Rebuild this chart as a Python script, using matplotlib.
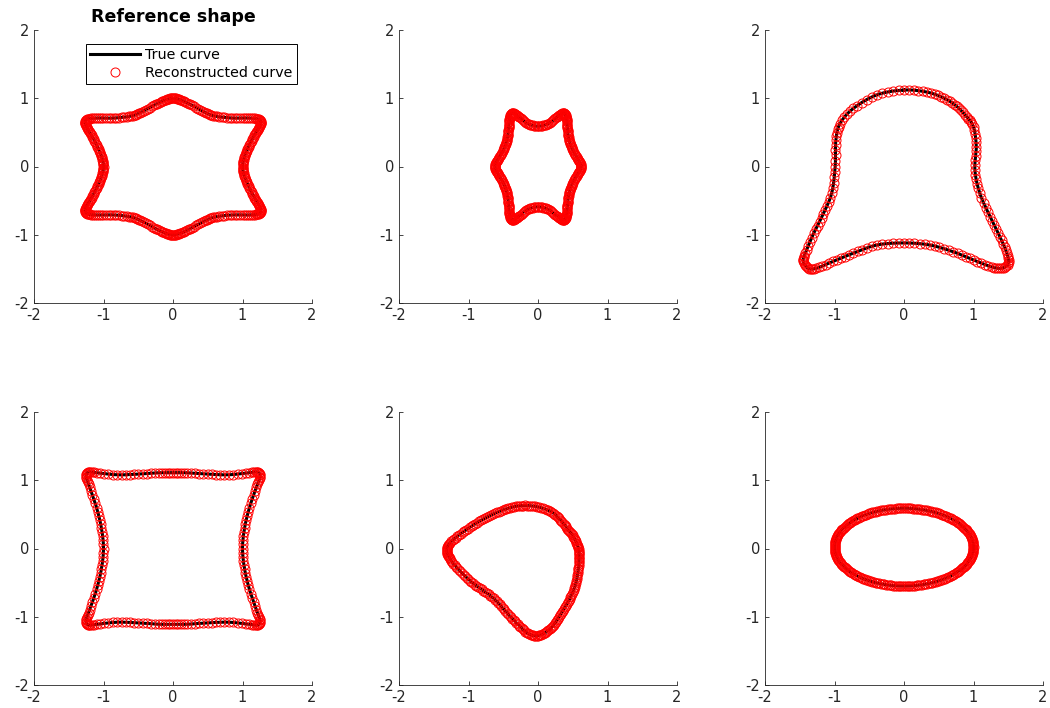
import numpy as np
import matplotlib
matplotlib.use("Agg")
import matplotlib.pyplot as plt

plt.rcParams["axes.unicode_minus"] = False

# outline points (first quadrant for the symmetric shapes)
star_q1 = [(1.00, 0.00), (1.02, 0.12), (1.07, 0.25), (1.14, 0.40), (1.21, 0.52),
           (1.26, 0.62), (1.24, 0.69), (1.10, 0.71), (0.85, 0.71), (0.60, 0.74),
           (0.45, 0.80), (0.25, 0.91), (0.10, 0.98), (0.00, 1.00)]
small_star_q1 = [(0.62, 0.00), (0.58, 0.10), (0.51, 0.22), (0.46, 0.34), (0.43, 0.48),
                 (0.42, 0.63), (0.40, 0.74), (0.36, 0.78), (0.28, 0.73), (0.15, 0.63),
                 (0.00, 0.59)]
square_q1 = [(1.00, 0.00), (1.03, 0.30), (1.10, 0.60), (1.20, 0.90), (1.25, 1.05),
             (1.22, 1.12), (1.10, 1.11), (0.80, 1.08), (0.50, 1.09), (0.20, 1.11),
             (0.00, 1.11)]
bell = [(0.00, 1.12), (-0.39, 1.05), (-0.73, 0.85), (-0.92, 0.63), (-0.98, 0.39),
        (-0.99, 0.00), (-1.04, -0.39), (-1.16, -0.69), (-1.30, -0.98), (-1.42, -1.27),
        (-1.45, -1.39), (-1.38, -1.49), (-1.26, -1.49), (-1.02, -1.39), (-0.73, -1.27),
        (-0.39, -1.15), (0.00, -1.12), (0.37, -1.15), (0.71, -1.25), (1.00, -1.37),
        (1.26, -1.47), (1.41, -1.49), (1.50, -1.42), (1.48, -1.27), (1.38, -1.03),
        (1.24, -0.74), (1.09, -0.39), (1.02, -0.05), (1.04, 0.29), (1.00, 0.58),
        (0.90, 0.73), (0.76, 0.88), (0.58, 1.00), (0.33, 1.09)]
blob = [(-0.21, 0.63), (-0.59, 0.53), (-0.98, 0.31), (-1.29, 0.05), (-1.26, -0.16),
        (-0.98, -0.47), (-0.64, -0.73), (-0.35, -1.05), (-0.09, -1.27), (0.15, -1.20),
        (0.36, -0.91), (0.53, -0.56), (0.59, -0.18), (0.56, 0.07), (0.41, 0.31),
        (0.17, 0.55)]
ellipse_axes = [1.0, 0.57]
ellipse_center = [0.0, 0.02]

ticks = [-2, -1, 0, 1, 2]
gray = "#262626"


def mirror4(q1):
    q1 = np.asarray(q1, float)
    q2 = q1[::-1][1:] * [-1, 1]
    q3 = q1[1:] * [-1, -1]
    q4 = q1[::-1][1:-1] * [1, -1]
    return np.vstack([q1, q2, q3, q4])


def closed_curve(pts, n):
    # periodic Catmull-Rom through the outline points
    P = np.asarray(pts, float)
    N = len(P)
    t = np.linspace(0, 1, n, endpoint=False)[:, None]
    segs = []
    for i in range(N):
        p0, p1, p2, p3 = P[i - 1], P[i], P[(i + 1) % N], P[(i + 2) % N]
        segs.append(0.5 * (2 * p1 + (p2 - p0) * t
                           + (2 * p0 - 5 * p1 + 4 * p2 - p3) * t ** 2
                           + (3 * p1 - p0 - 3 * p2 + p3) * t ** 3))
    c = np.vstack(segs)
    return np.vstack([c, c[:1]])


th = np.linspace(0, 2 * np.pi, 241)
ellipse = np.column_stack([ellipse_center[0] + ellipse_axes[0] * np.cos(th),
                           ellipse_center[1] + ellipse_axes[1] * np.sin(th)])

shapes = [
    (closed_curve(mirror4(star_q1), 8), closed_curve(mirror4(star_q1), 7)),
    (closed_curve(mirror4(small_star_q1), 8), closed_curve(mirror4(small_star_q1), 8)),
    (closed_curve(bell, 12), closed_curve(bell, 5)),
    (closed_curve(mirror4(square_q1), 8), closed_curve(mirror4(square_q1), 5)),
    (closed_curve(blob, 12), closed_curve(blob, 14)),
    (ellipse, ellipse),
]

fig = plt.figure(figsize=(10.5, 7.08), dpi=100)
lefts = [34 / 1050, 399 / 1050, 765 / 1050]
bottoms = [1 - 303 / 708, 1 - 685 / 708]
w, h = 278 / 1050, 273 / 708

for k, (true_c, rec_c) in enumerate(shapes):
    ax = fig.add_axes([lefts[k % 3], bottoms[k // 3], w, h])
    ax.plot(true_c[:, 0], true_c[:, 1], color="k", lw=2.2, label="True curve")
    ax.plot(rec_c[:-1, 0], rec_c[:-1, 1], "o", ls="none", mfc="none", mec="red",
            ms=6.5, mew=0.7, label="Reconstructed curve")
    ax.set_xlim(-2, 2)
    ax.set_ylim(-2, 2)
    ax.set_xticks(ticks)
    ax.set_yticks(ticks)
    for s in ["top", "right"]:
        ax.spines[s].set_visible(False)
    for s in ["left", "bottom"]:
        ax.spines[s].set_color(gray)
        ax.spines[s].set_linewidth(0.6)
    ax.tick_params(direction="in", length=3, width=0.6, colors=gray, labelsize=10.5)
    if k == 0:
        ax.set_title("Reference shape", fontsize=12.5, fontweight="bold", pad=6)
        leg = ax.legend(loc="upper right", bbox_to_anchor=(0.946, 0.95), fontsize=10.3,
                        frameon=True, fancybox=False, edgecolor="k", framealpha=1,
                        handlelength=3.5, handletextpad=0.35, borderpad=0.3,
                        labelspacing=0.25, borderaxespad=0)
        leg.get_frame().set_linewidth(0.7)

fig.savefig("out.png", dpi=100)
